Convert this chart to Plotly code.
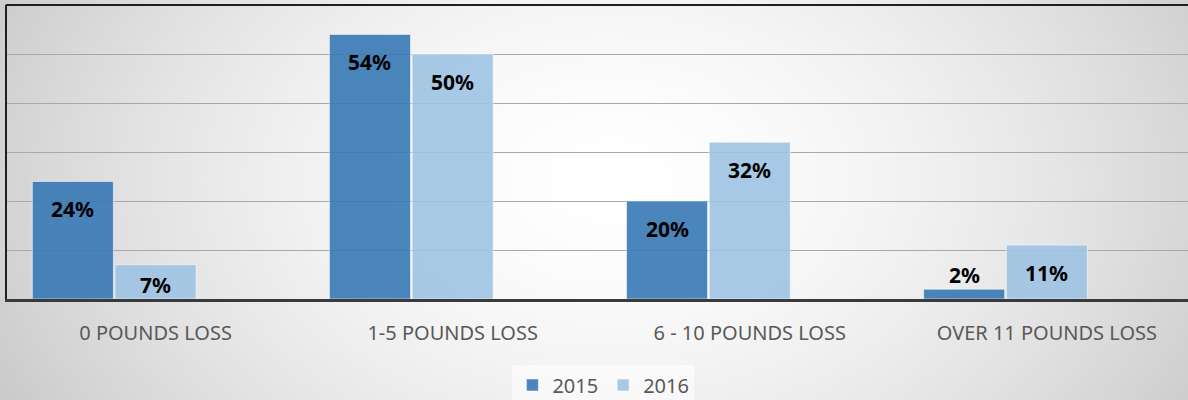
import base64, struct, zlib
import numpy as np
import plotly.graph_objects as go

# ---- data ----
categories = ["0 POUNDS LOSS", "1-5 POUNDS LOSS", "6 - 10 POUNDS LOSS", "OVER 11 POUNDS LOSS"]
series_names = ["2015", "2016"]
values_2015 = [24, 54, 20, 2]
values_2016 = [7, 50, 32, 11]
label_2015 = ["24%", "54%", "20%", "2%"]
label_2016 = ["7%", "50%", "32%", "11%"]

W, H = 1188, 400
ML, MR, MT, MB = 7, 0, 5, 101
PW, PH = W - ML - MR, H - MT - MB
YMAX = 60


# ---- radial gradient background (decoration) ----
def make_png(arr):
    h, w = arr.shape
    raw = b"".join(b"\x00" + arr[i].tobytes() for i in range(h))
    def chunk(t, d):
        c = struct.pack(">I", len(d)) + t + d
        return c + struct.pack(">I", zlib.crc32(t + d) & 0xFFFFFFFF)
    png = b"\x89PNG\r\n\x1a\n"
    png += chunk(b"IHDR", struct.pack(">IIBBBBB", w, h, 8, 0, 0, 0, 0))
    png += chunk(b"IDAT", zlib.compress(raw, 9))
    png += chunk(b"IEND", b"")
    return "data:image/png;base64," + base64.b64encode(png).decode()

gw, gh = W // 2, H // 2
yy, xx = np.mgrid[0:gh, 0:gw]
xs = xx * 2.0
ys = yy * 2.0
d = np.sqrt(((xs - 610) / 600.0) ** 2 + ((ys - 180) / 420.0) ** 2)
g = 255 - 42 * np.clip(d, 0, 1.3) ** 1.7
bg = make_png(np.clip(g, 0, 255).astype(np.uint8))

c2015 = "rgba(54,120,181,0.9)"
c2016 = "rgba(159,195,226,0.9)"

fig = go.Figure()
fig.add_trace(go.Bar(x=categories, y=values_2015, name=series_names[0],
                     marker=dict(color=c2015, line=dict(color="rgba(255,255,255,0.55)", width=1))))
fig.add_trace(go.Bar(x=categories, y=values_2016, name=series_names[1],
                     marker=dict(color=c2016, line=dict(color="rgba(255,255,255,0.55)", width=1))))
fig.add_trace(go.Bar(x=categories, y=[None] * len(categories), name="", showlegend=False,
                     hoverinfo="skip"))


def label_shift(v):
    bar_px = v * PH / YMAX
    if bar_px < 20:
        return 14
    return -min(28, bar_px - 14)


annotations = []
slot = 1.0 / 3 * (1 - 0.165)
for offset, vals, labs in ((-slot, values_2015, label_2015), (0.0, values_2016, label_2016)):
    for i, (v, t) in enumerate(zip(vals, labs)):
        annotations.append(dict(x=i + offset, y=v, xref="x", yref="y", text="<b>" + t + "</b>",
                                showarrow=False, yshift=label_shift(v),
                                font=dict(family="Noto Sans", size=21, color="#000000")))

fig.update_layout(
    width=W, height=H,
    margin=dict(l=ML, r=MR, t=MT, b=MB, pad=0, autoexpand=False),
    barmode="group", bargap=0.165, bargroupgap=0.02,
    paper_bgcolor="#ffffff", plot_bgcolor="rgba(0,0,0,0)",
    font=dict(family="Noto Sans", color="#595959"),
    showlegend=True,
    legend=dict(orientation="h", x=0.505, xanchor="center", y=-0.2925, yanchor="middle",
                font=dict(family="Noto Sans", size=20, color="#595959"),
                bgcolor="rgba(255,255,255,0.55)", itemclick=False),
    annotations=annotations,
    images=[dict(source=bg, xref="paper", yref="paper",
                 x=-ML / PW, y=1 + MT / PH, sizex=W / PW, sizey=H / PH,
                 xanchor="left", yanchor="top", sizing="stretch", layer="below")],
    shapes=[dict(type="line", xref="paper", yref="paper", x0=-0.001, x1=1.0, y0=1, y1=1,
                 line=dict(color="#1f1f1f", width=2))],
)
fig.update_xaxes(range=[-0.5, -0.5 + PW / 297.1], showline=True, linewidth=3, linecolor="#3a3a3a",
                 ticks="outside", ticklen=0, ticklabelstandoff=14,
                 tickfont=dict(family="Noto Sans", size=20, color="#595959"),
                 showgrid=False, fixedrange=True, automargin=False)
fig.update_yaxes(range=[0, YMAX], dtick=10, showgrid=True, gridcolor="#a8a8a8", gridwidth=1,
                 showticklabels=False, zeroline=False, showline=True, linewidth=2,
                 linecolor="#1f1f1f", fixedrange=True, automargin=False)

fig.write_html("out.html", config={"displayModeBar": False},
               post_script="document.body.style.margin='0';document.body.style.padding='0';")
